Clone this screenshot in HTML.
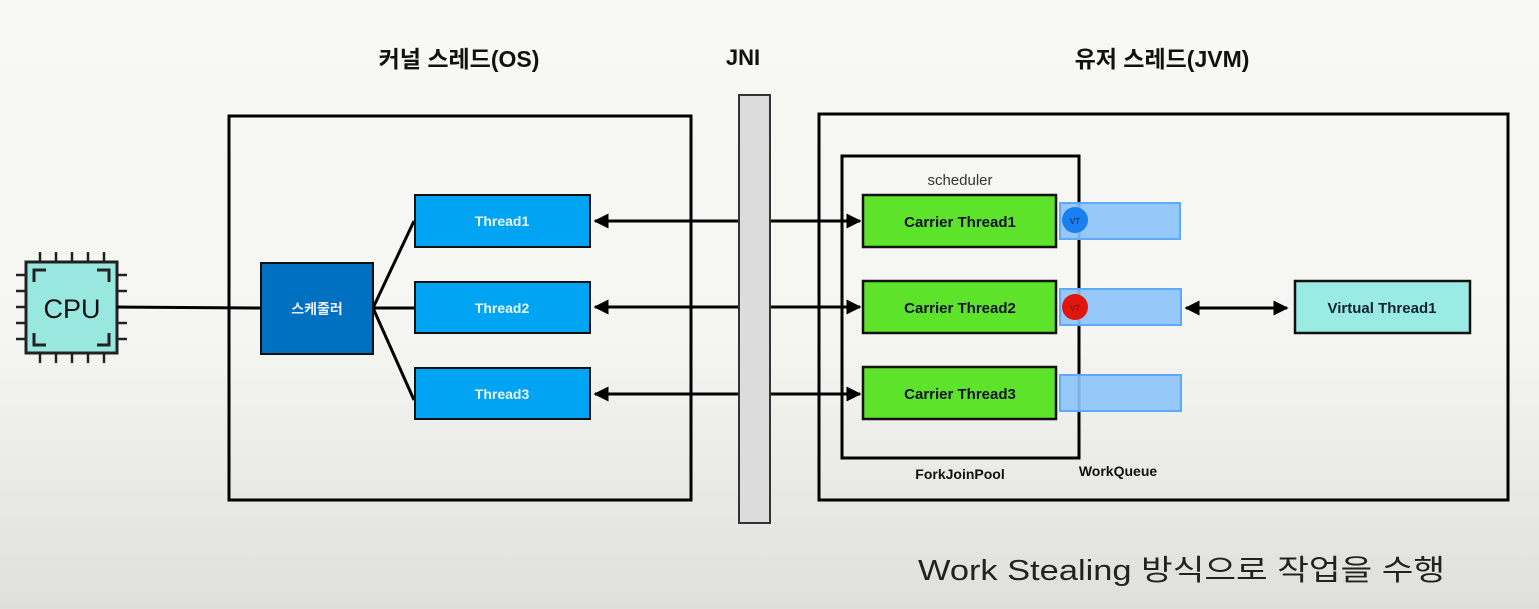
<!DOCTYPE html>
<html><head><meta charset="utf-8"><style>
html,body{margin:0;padding:0;width:1539px;height:609px;overflow:hidden}
body{background:linear-gradient(#f8f8f5 0%,#f5f6f2 55%,#dfe0de 100%)}
svg{display:block}
text{font-family:"Liberation Sans","Noto Sans CJK KR",sans-serif}
</style></head><body>
<svg width="1539" height="609" viewBox="0 0 1539 609" xmlns="http://www.w3.org/2000/svg">
<defs>
<marker id="a" viewBox="0 0 10 10" refX="9" refY="5" markerWidth="5" markerHeight="5" orient="auto-start-reverse"><path d="M0,0L10,5L0,10z" fill="#000"/></marker>
</defs>
<!-- titles -->
<text x="459" y="67" font-size="23" font-weight="bold" text-anchor="middle" fill="#111">커널 스레드(OS)</text>
<text x="743" y="65" font-size="22" font-weight="bold" text-anchor="middle" fill="#111">JNI</text>
<text x="1162" y="67" font-size="23" font-weight="bold" text-anchor="middle" fill="#111">유저 스레드(JVM)</text>
<!-- big boxes -->
<rect x="229" y="116" width="462" height="384" fill="none" stroke="#000" stroke-width="3"/>
<rect x="819" y="114" width="689" height="386" fill="none" stroke="#000" stroke-width="3"/>
<rect x="842" y="156" width="237" height="302" fill="none" stroke="#000" stroke-width="3"/>
<!-- arrows across -->
<line x1="595" y1="221" x2="860" y2="221" stroke="#000" stroke-width="3" marker-start="url(#a)" marker-end="url(#a)"/>
<line x1="595" y1="307" x2="860" y2="307" stroke="#000" stroke-width="3" marker-start="url(#a)" marker-end="url(#a)"/>
<line x1="595" y1="394" x2="860" y2="394" stroke="#000" stroke-width="3" marker-start="url(#a)" marker-end="url(#a)"/>
<line x1="1186" y1="308" x2="1287" y2="308" stroke="#000" stroke-width="3" marker-start="url(#a)" marker-end="url(#a)"/>
<!-- JNI bar -->
<rect x="739" y="95" width="31" height="428" fill="#dcdcdc" stroke="#333" stroke-width="2"/>
<!-- CPU -->
<g stroke="#222" stroke-width="2.5">
<line x1="40" y1="252" x2="40" y2="262"/><line x1="56" y1="252" x2="56" y2="262"/><line x1="72" y1="252" x2="72" y2="262"/><line x1="88" y1="252" x2="88" y2="262"/><line x1="104" y1="252" x2="104" y2="262"/>
<line x1="40" y1="353" x2="40" y2="363"/><line x1="56" y1="353" x2="56" y2="363"/><line x1="72" y1="353" x2="72" y2="363"/><line x1="88" y1="353" x2="88" y2="363"/><line x1="104" y1="353" x2="104" y2="363"/>
<line x1="16" y1="275" x2="26" y2="275"/><line x1="16" y1="291" x2="26" y2="291"/><line x1="16" y1="307" x2="26" y2="307"/><line x1="16" y1="323" x2="26" y2="323"/><line x1="16" y1="339" x2="26" y2="339"/>
<line x1="117" y1="275" x2="127" y2="275"/><line x1="117" y1="291" x2="127" y2="291"/><line x1="117" y1="323" x2="127" y2="323"/><line x1="117" y1="339" x2="127" y2="339"/>
</g>
<rect x="26" y="262" width="91" height="91" fill="#99e8df" stroke="#222" stroke-width="3"/>
<path d="M34,282V270H46M97,270H109V282M34,333V345H46M97,345H109V333" fill="none" stroke="#222" stroke-width="3"/>
<text x="72" y="318" font-size="27" text-anchor="middle" fill="#111">CPU</text>
<line x1="117" y1="307" x2="261" y2="308" stroke="#000" stroke-width="3"/>
<!-- scheduler -->
<line x1="373" y1="308" x2="414" y2="221" stroke="#000" stroke-width="3"/>
<line x1="373" y1="308" x2="414" y2="308" stroke="#000" stroke-width="3"/>
<line x1="373" y1="308" x2="414" y2="400" stroke="#000" stroke-width="3"/>
<rect x="261" y="263" width="112" height="91" fill="#0071c1" stroke="#111" stroke-width="2"/>
<text x="317" y="314" font-size="14" font-weight="bold" text-anchor="middle" fill="#eef">스케줄러</text>
<!-- threads -->
<g stroke="#111" stroke-width="2">
<rect x="415" y="195" width="175" height="52" fill="#00a4f2"/>
<rect x="415" y="282" width="175" height="51" fill="#00a4f2"/>
<rect x="415" y="368" width="175" height="51" fill="#00a4f2"/>
</g>
<g font-size="14" font-weight="bold" fill="#e8f8ff" text-anchor="middle">
<text x="502" y="226">Thread1</text><text x="502" y="313">Thread2</text><text x="502" y="399">Thread3</text>
</g>
<!-- scheduler label -->
<text x="960" y="185" font-size="15" text-anchor="middle" fill="#333">scheduler</text>
<!-- carriers -->
<g stroke="#111" stroke-width="2.5">
<rect x="863" y="195" width="193" height="52" fill="#5de32a"/>
<rect x="863" y="281" width="193" height="52" fill="#5de32a"/>
<rect x="863" y="367" width="193" height="52" fill="#5de32a"/>
</g>
<g font-size="15" font-weight="bold" fill="#112" text-anchor="middle">
<text x="960" y="227">Carrier Thread1</text><text x="960" y="313">Carrier Thread2</text><text x="960" y="399">Carrier Thread3</text>
</g>
<!-- queues -->
<g fill="#8cc3fb" fill-opacity="0.9" stroke="#5ca9ff" stroke-width="2">
<rect x="1060" y="203" width="120" height="36"/>
<rect x="1060" y="289" width="121" height="36"/>
<rect x="1060" y="375" width="121" height="36"/>
</g>
<circle cx="1075" cy="220" r="13" fill="#1a7ff0"/>
<text x="1075" y="224" font-size="8" text-anchor="middle" fill="#123">VT</text>
<circle cx="1075" cy="307" r="13" fill="#e0160c"/>
<text x="1075" y="311" font-size="8" text-anchor="middle" fill="#611">VT</text>
<!-- virtual thread -->
<rect x="1295" y="281" width="175" height="52" fill="#99ebe4" stroke="#111" stroke-width="2.5"/>
<text x="1382" y="313" font-size="15" font-weight="bold" text-anchor="middle" fill="#123">Virtual Thread1</text>
<!-- labels -->
<text x="960" y="479" font-size="14" font-weight="bold" text-anchor="middle" fill="#111">ForkJoinPool</text>
<text x="1118" y="476" font-size="14" font-weight="bold" text-anchor="middle" fill="#111">WorkQueue</text>
<text x="918" y="580" font-size="29" fill="#222" textLength="527" lengthAdjust="spacingAndGlyphs">Work Stealing 방식으로 작업을 수행</text>
</svg>
</body></html>
